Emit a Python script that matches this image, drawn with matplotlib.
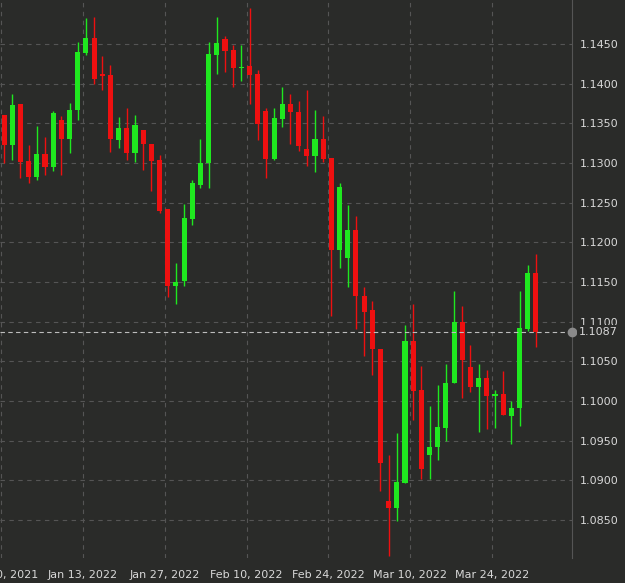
import matplotlib
matplotlib.use("Agg")
import matplotlib.pyplot as plt
import numpy as np

opens = [1.1361,1.1323,1.1374,1.1302,1.1282,1.1311,1.1295,1.1354,1.1330,1.1367,1.1439,1.1458,1.1412,1.1411,1.1329,1.1344,1.1313,1.1342,1.1324,1.1304,
         1.1242,1.1145,1.1151,1.1229,1.1272,1.1300,1.1436,1.1456,1.1442,1.1420,1.1422,1.1412,1.1366,1.1305,1.1356,1.1374,1.1364,1.1318,1.1309,1.1330,
         1.1306,1.1190,1.1180,1.1216,1.1132,1.1114,1.1066,1.0874,1.0865,1.0897,1.1075,1.1014,1.0932,1.0942,1.0966,1.1022,1.1100,1.1043,1.1017,1.1029,
         1.1006,1.1009,1.0981,1.0991,1.1091,1.1161]
highs = [1.1361,1.1387,1.1374,1.1323,1.1347,1.1333,1.1366,1.1359,1.1376,1.1453,1.1483,1.1484,1.1435,1.1424,1.1358,1.1369,1.1361,1.1342,1.1324,1.1310,
         1.1242,1.1174,1.1248,1.1279,1.1330,1.1453,1.1484,1.1460,1.1449,1.1449,1.1495,1.1417,1.1369,1.1369,1.1396,1.1387,1.1378,1.1392,1.1367,1.1359,
         1.1306,1.1275,1.1247,1.1233,1.1144,1.1126,1.1066,1.0932,1.0959,1.1096,1.1122,1.1044,1.0994,1.1020,1.1047,1.1138,1.1120,1.1070,1.1046,1.1039,
         1.1014,1.1038,1.1000,1.1138,1.1171,1.1185]
lows = [1.1300,1.1304,1.1281,1.1275,1.1279,1.1285,1.1290,1.1285,1.1313,1.1354,1.1436,1.1400,1.1392,1.1314,1.1319,1.1304,1.1301,1.1291,1.1264,1.1237,
        1.1131,1.1122,1.1145,1.1222,1.1268,1.1268,1.1412,1.1415,1.1396,1.1403,1.1374,1.1329,1.1281,1.1304,1.1345,1.1324,1.1315,1.1296,1.1289,1.1301,
        1.1107,1.1168,1.1143,1.1090,1.1057,1.1033,1.0886,1.0805,1.0849,1.0897,1.0976,1.0901,1.0902,1.0926,1.0950,1.1022,1.1004,1.1011,1.0961,1.0965,
        1.0966,1.0982,1.0946,1.0968,1.1088,1.1068]
closes = [1.1323,1.1373,1.1301,1.1282,1.1311,1.1295,1.1363,1.1330,1.1367,1.1440,1.1458,1.1406,1.1410,1.1330,1.1344,1.1313,1.1348,1.1324,1.1302,1.1239,
          1.1145,1.1150,1.1230,1.1275,1.1300,1.1437,1.1451,1.1441,1.1420,1.1421,1.1411,1.1349,1.1305,1.1357,1.1374,1.1364,1.1321,1.1309,1.1330,1.1305,
          1.1190,1.1270,1.1216,1.1132,1.1112,1.1065,1.0922,1.0865,1.0898,1.1075,1.1013,1.0914,1.0942,1.0967,1.1022,1.1100,1.1051,1.1017,1.1029,1.1006,
          1.1009,1.0982,1.0991,1.1092,1.1161,1.1087]
date_labels = ["Dec 30, 2021", "Jan 13, 2022", "Jan 27, 2022", "Feb 10, 2022", "Feb 24, 2022", "Mar 10, 2022", "Mar 24, 2022"]
date_index = [0, 10, 20, 30, 40, 50, 60]
price_ticks = [1.0850,1.0900,1.0950,1.1000,1.1050,1.1100,1.1150,1.1200,1.1250,1.1300,1.1350,1.1400,1.1450]
last_price = 1.1087

BG = "#2a2b29"
GREEN = "#1fe81f"
RED = "#ee1010"
TXT = "#d8d8d8"

fig = plt.figure(figsize=(6.25, 5.83), dpi=100, facecolor=BG)
ax = fig.add_axes([0, 0.043, 0.915, 0.957], facecolor=BG)

x = np.arange(len(opens))
for i in x:
    o, h, l, c = opens[i], highs[i], lows[i], closes[i]
    col = GREEN if c >= o else RED
    ax.vlines(i, l, h, color=col, lw=1.0, zorder=3)
    lo, hi = min(o, c), max(o, c)
    ax.bar(i, max(hi - lo, 0.00005), bottom=lo, width=0.62, color=col, zorder=4, linewidth=0)

ax.set_xlim(-0.5, 69.4)
ax.set_ylim(1.0802, 1.15054)
ax.set_yticks(price_ticks)
ax.set_yticklabels([f"{p:.4f}" for p in price_ticks])
ax.yaxis.tick_right()
ax.set_xticks([d - 0.35 for d in date_index])
ax.set_xticklabels(date_labels)
ax.tick_params(axis="both", colors=TXT, labelsize=8, length=0)
ax.tick_params(axis="y", pad=6)
ax.tick_params(axis="x", pad=9)
ax.grid(True, color="#555555", ls=(0, (4, 4)), lw=0.8, zorder=0)
for s in ["top", "left", "bottom"]:
    ax.spines[s].set_visible(False)
ax.spines["right"].set_color("#555555")

ax.axhline(last_price, color="#bdbdbd", ls=(0, (4, 3)), lw=0.8, zorder=5)
ax.plot([69.4], [last_price], "o", color="#8a8a8a", ms=6, clip_on=False, zorder=6)
ax.text(1.012, last_price, f"{last_price:.4f}", transform=ax.get_yaxis_transform(), color=TXT,
        fontsize=8, va="center", ha="left",
        bbox=dict(boxstyle="square,pad=0.15", fc=BG, ec="none"), zorder=7)

fig.savefig("out.png", dpi=100, facecolor=BG)
